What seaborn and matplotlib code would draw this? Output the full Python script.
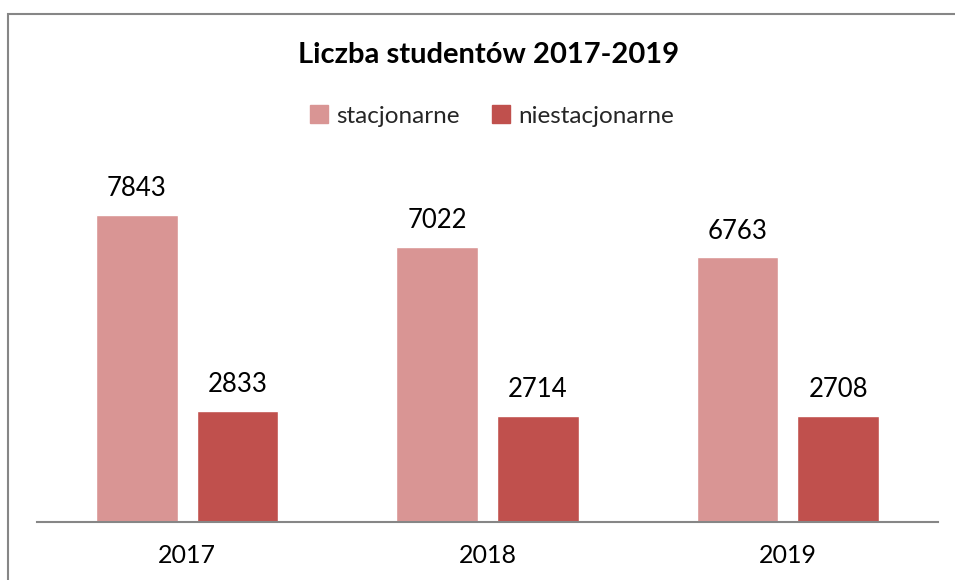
import matplotlib
matplotlib.use('Agg')
import matplotlib.pyplot as plt
import seaborn as sns
import pandas as pd
from matplotlib.patches import Rectangle

years = ['2017', '2018', '2019']
stacjonarne = [7843, 7022, 6763]
niestacjonarne = [2833, 2714, 2708]
series = ['stacjonarne', 'niestacjonarne']
colors = ['#D99594', '#C0504D']

df = pd.DataFrame({
    'rok': years * 2,
    'liczba': stacjonarne + niestacjonarne,
    'tryb': [series[0]] * 3 + [series[1]] * 3,
})

sns.set_style('white')
plt.rcParams['font.family'] = ['Lato', 'DejaVu Sans']

fig = plt.figure(figsize=(9.55, 5.8), dpi=100)
ax = fig.add_axes([37 / 955, 58 / 580, 901 / 955, 352 / 580])

sns.barplot(data=df, x='rok', y='liczba', hue='tryb', palette=colors,
            width=0.67, gap=0.19, ax=ax, saturation=1, legend=False)

for cont in ax.containers:
    ax.bar_label(cont, padding=10, fontsize=18.5, color='#000000')

ax.set_ylim(0, 9000)
ax.set_xlim(-0.5, 2.5)
ax.set_xlabel('')
ax.set_ylabel('')
ax.set_yticks([])
ax.tick_params(axis='x', length=0, labelsize=18, pad=16, labelcolor='#000000')
for side in ['top', 'right', 'left']:
    ax.spines[side].set_visible(False)
ax.spines['bottom'].set_color('#868686')
ax.spines['bottom'].set_linewidth(1.5)

fig.text(489 / 955, 1 - 55 / 580, 'Liczba studentów 2017-2019', ha='center', va='center',
         fontsize=21, fontweight='bold', color='#000000')

handles = [Rectangle((0, 0), 1, 1, color=c) for c in colors]
fig.legend(handles, series, loc='center', bbox_to_anchor=(492 / 955, 1 - 116 / 580),
           ncol=2, frameon=False, fontsize=17.5, handlelength=0.75, handleheight=0.75,
           handletextpad=0.35, columnspacing=1.3)

fig.patches.append(Rectangle((8 / 955, -0.1), 1.1, 1 - 14 / 580 + 0.1, transform=fig.transFigure,
                             fill=False, edgecolor='#868686', linewidth=1.5))

fig.savefig('out.png', dpi=100)
